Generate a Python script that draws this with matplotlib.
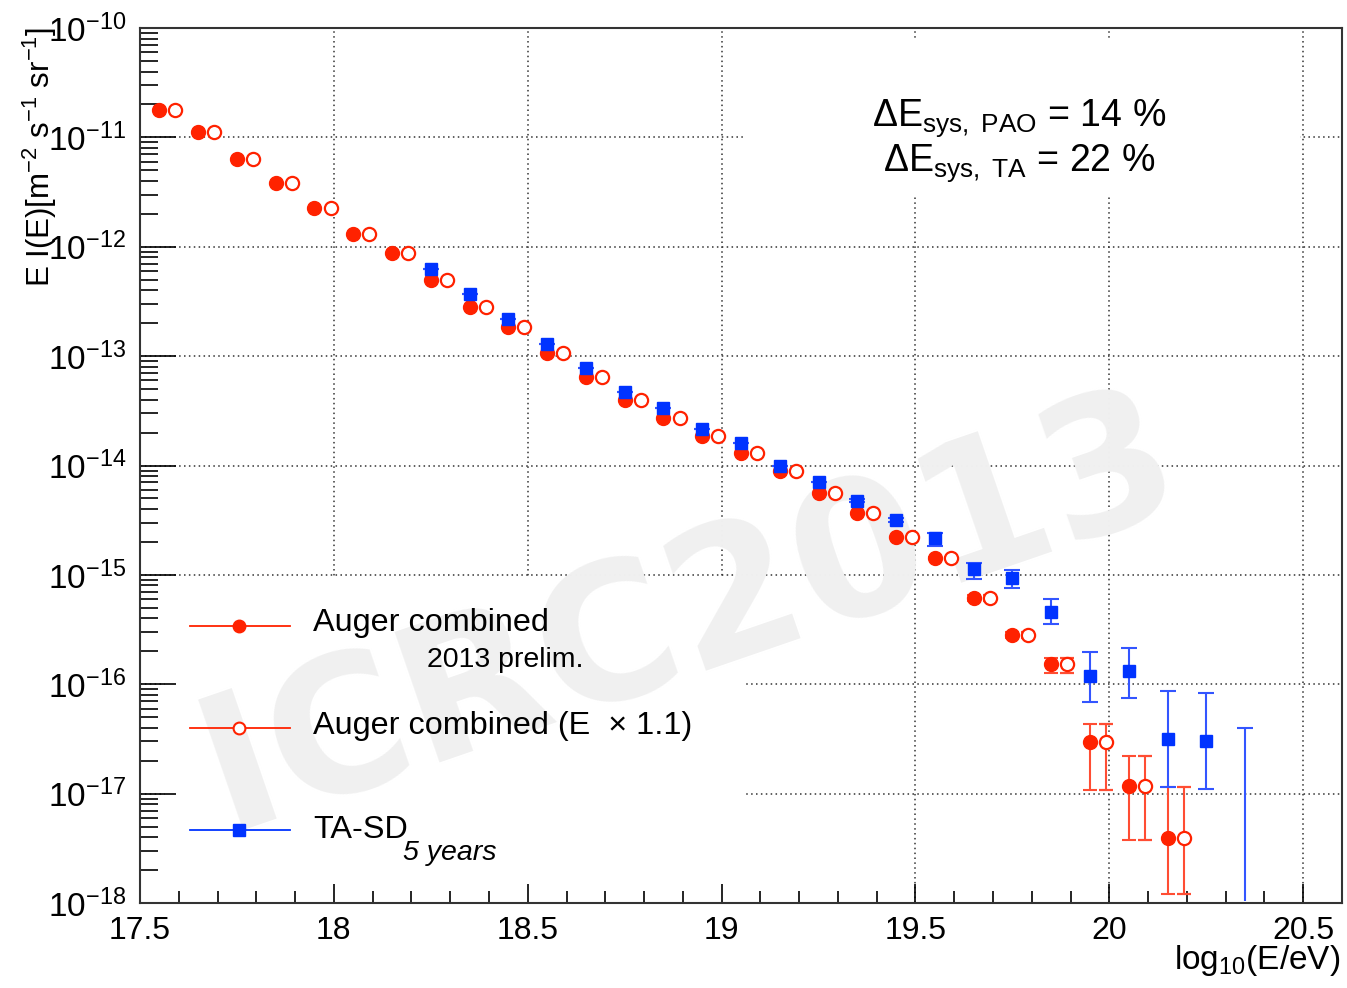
import matplotlib
matplotlib.use("Agg")
import matplotlib.pyplot as plt
from matplotlib.lines import Line2D
from matplotlib.patches import Rectangle
from matplotlib.ticker import MultipleLocator, FormatStrFormatter, LogLocator
import numpy as np

plt.rcParams['font.family'] = ['Liberation Sans', 'DejaVu Sans']
plt.rcParams['mathtext.fontset'] = 'custom'
plt.rcParams['mathtext.rm'] = 'Liberation Sans'
plt.rcParams['mathtext.it'] = 'Liberation Sans:italic'
plt.rcParams['mathtext.bf'] = 'Liberation Sans:bold'
plt.rcParams['axes.unicode_minus'] = False

# Auger combined 2013 prelim. (log10 E bin centres, E*I(E))
auger_x = [17.55, 17.65, 17.75, 17.85, 17.95, 18.05, 18.15, 18.25, 18.35, 18.45,
           18.55, 18.65, 18.75, 18.85, 18.95, 19.05, 19.15, 19.25, 19.35, 19.45,
           19.55, 19.65, 19.75, 19.85, 19.95, 20.05, 20.15]
auger_y = [1.77e-11, 1.115e-11, 6.32e-12, 3.81e-12, 2.25e-12, 1.30e-12, 8.74e-13, 4.95e-13,
           2.81e-13, 1.84e-13, 1.065e-13, 6.43e-14, 3.96e-14, 2.71e-14, 1.86e-14, 1.30e-14,
           8.89e-15, 5.60e-15, 3.67e-15, 2.22e-15, 1.42e-15, 6.14e-16, 2.82e-16, 1.53e-16,
           2.96e-17, 1.17e-17, 3.93e-18]
auger_lo = [1.77e-11, 1.115e-11, 6.32e-12, 3.81e-12, 2.25e-12, 1.30e-12, 8.74e-13, 4.95e-13,
            2.81e-13, 1.84e-13, 1.065e-13, 6.43e-14, 3.96e-14, 2.71e-14, 1.86e-14, 1.30e-14,
            8.89e-15, 5.60e-15, 3.67e-15, 2.22e-15, 1.40e-15, 5.8e-16, 2.65e-16, 1.27e-16,
            1.07e-17, 3.78e-18, 1.21e-18]
auger_hi = [1.77e-11, 1.115e-11, 6.32e-12, 3.81e-12, 2.25e-12, 1.30e-12, 8.74e-13, 4.95e-13,
            2.81e-13, 1.84e-13, 1.065e-13, 6.43e-14, 3.96e-14, 2.71e-14, 1.86e-14, 1.30e-14,
            8.89e-15, 5.60e-15, 3.67e-15, 2.22e-15, 1.45e-15, 6.5e-16, 3.0e-16, 1.73e-16,
            4.35e-17, 2.22e-17, 1.15e-17]
energy_shift = 1.1  # Auger combined (E x 1.1)

# TA-SD 5 years
ta_x = [18.25, 18.35, 18.45, 18.55, 18.65, 18.75, 18.85, 18.95, 19.05, 19.15, 19.25,
        19.35, 19.45, 19.55, 19.65, 19.75, 19.85, 19.95, 20.05, 20.15, 20.25]
ta_y = [6.20e-13, 3.66e-13, 2.17e-13, 1.28e-13, 7.72e-14, 4.69e-14, 3.33e-14, 2.15e-14,
        1.59e-14, 9.87e-15, 7.05e-15, 4.73e-15, 3.17e-15, 2.18e-15, 1.12e-15, 9.29e-16,
        4.54e-16, 1.19e-16, 1.32e-16, 3.13e-17, 3.03e-17]
ta_lo = [6.20e-13, 3.66e-13, 2.17e-13, 1.28e-13, 7.72e-14, 4.69e-14, 3.33e-14, 2.15e-14,
         1.59e-14, 9.87e-15, 7.05e-15, 4.6e-15, 3.05e-15, 1.83e-15, 9.16e-16, 7.62e-16,
         3.53e-16, 6.92e-17, 7.43e-17, 1.14e-17, 1.11e-17]
ta_hi = [6.20e-13, 3.66e-13, 2.17e-13, 1.28e-13, 7.72e-14, 4.69e-14, 3.33e-14, 2.15e-14,
         1.59e-14, 9.87e-15, 7.05e-15, 4.9e-15, 3.3e-15, 2.4e-15, 1.28e-15, 1.106e-15,
         5.97e-16, 1.98e-16, 2.13e-16, 8.67e-17, 8.36e-17]
# last TA bin: no event, upper end of the error bar only
ta_limit_x = [20.35]
ta_limit_hi = [3.96e-17]

red = '#ff2200'
red_err = '#ff4d33'
blue = '#0033ff'
blue_err = '#3355ff'

fig = plt.figure(figsize=(13.47, 9.88), dpi=100)
pos = [140 / 1347, 85 / 988, 1202 / 1347, 875 / 988]
xlim = (17.5, 20.6)
ylim = (1e-18, 1e-10)

# grid on its own axes underneath so white boxes can hide parts of it
axg = fig.add_axes(pos, zorder=0)
axg.set_yscale('log')
axg.set_xlim(*xlim)
axg.set_ylim(*ylim)
axg.xaxis.set_major_locator(MultipleLocator(0.5))
axg.yaxis.set_major_locator(LogLocator(base=10, numticks=20))
axg.grid(True, which='major', color='#333333', linestyle=(0, (1, 2.2)), linewidth=1.1)
axg.tick_params(which='both', length=0, labelleft=False, labelbottom=False)
for s in axg.spines.values():
    s.set_visible(False)

ax = fig.add_axes(pos, zorder=1)
ax.patch.set_visible(False)
ax.set_yscale('log')
ax.set_xlim(*xlim)
ax.set_ylim(*ylim)

# white boxes behind legend and text
ax.add_patch(Rectangle((0.021, 0.0), 0.483, 0.372, transform=ax.transAxes,
                       facecolor='white', edgecolor='none', zorder=1))
ax.add_patch(Rectangle((0.503, 0.809), 0.462, 0.176, transform=ax.transAxes,
                       facecolor='white', edgecolor='none', zorder=1))

# watermark
ax.text(0.458, 0.33, 'ICRC2013', transform=ax.transAxes, fontsize=136,
        family='DejaVu Sans', weight='bold', color='#f0f0f0', rotation=19,
        ha='center', va='center', zorder=1.2)

ax_arr = np.array(auger_x)
ay = np.array(auger_y)
ayerr = [ay - np.array(auger_lo), np.array(auger_hi) - ay]
ax.errorbar(ax_arr, ay, yerr=ayerr, fmt='o', color=red, ecolor=red_err, ms=10,
            elinewidth=1.5, capsize=5, capthick=1.5, zorder=3)
ax.errorbar(ax_arr + np.log10(energy_shift), ay, yerr=ayerr, fmt='o', mfc='white',
            mec=red, mew=1.6, color=red, ecolor=red_err, ms=9.5,
            elinewidth=1.5, capsize=5, capthick=1.5, zorder=3)

ty = np.array(ta_y)
tyerr = [ty - np.array(ta_lo), np.array(ta_hi) - ty]
ax.errorbar(ta_x, ty, yerr=tyerr, fmt='s', color=blue, ecolor=blue_err, ms=9,
            elinewidth=1.5, capsize=5.5, capthick=1.5, zorder=4)
ax.vlines(ta_limit_x, 1.05e-18, ta_limit_hi, color=blue_err, lw=1.5, zorder=4)
ax.plot(ta_limit_x, ta_limit_hi, ls='none', marker='_', ms=11, mew=1.5,
        color=blue_err, zorder=4)

# axes cosmetics (ROOT style)
ax.xaxis.set_major_locator(MultipleLocator(0.5))
ax.xaxis.set_minor_locator(MultipleLocator(0.1))
ax.xaxis.set_major_formatter(FormatStrFormatter('%g'))
ax.yaxis.set_major_locator(LogLocator(base=10, numticks=20))
ax.yaxis.set_minor_locator(LogLocator(base=10, subs=np.arange(2, 10), numticks=20))
ax.tick_params(axis='x', which='major', direction='in', length=14, width=1.2,
               labelsize=23, pad=9, top=False)
ax.tick_params(axis='x', which='minor', direction='in', length=9, width=1.2, top=False)
ax.tick_params(axis='y', which='major', direction='in', length=26, width=1.2,
               labelsize=24, pad=10, right=False)
ax.tick_params(axis='y', which='minor', direction='in', length=13, width=1.2, right=False)
for s in ax.spines.values():
    s.set_linewidth(1.5)
    s.set_color('#333333')

fig.text(40 / 1347, 1 - 27 / 988, r'E I(E)[m$^{-2}$ s$^{-1}$ sr$^{-1}$]', rotation=90,
         ha='center', va='top', fontsize=22.5)
fig.text(1340 / 1347, 1 - 960 / 988, r'log$_{10}$(E/eV)', ha='right', va='center',
         fontsize=24)

fig.text(1019 / 1347, 1 - 118 / 988, r'$\Delta$E$_{\mathrm{sys,\ PAO}}$ = 14 %',
         ha='center', va='center', fontsize=27)
fig.text(1019 / 1347, 1 - 163 / 988, r'$\Delta$E$_{\mathrm{sys,\ TA}}$ = 22 %',
         ha='center', va='center', fontsize=27)

# legend
leg = [(0.3166, dict(marker='o', color=red, mfc=red, ms=9)),
       (0.2000, dict(marker='o', color=red, mfc='white', mec=red, mew=1.5, ms=8.5)),
       (0.0834, dict(marker='s', color=blue, mfc=blue, ms=9))]
for yy, kw in leg:
    ax.add_line(Line2D([0.0416, 0.1248], [yy, yy], transform=ax.transAxes, lw=1.3,
                       zorder=5, color=kw['color']))
    ax.add_line(Line2D([0.0824], [yy], transform=ax.transAxes, ls='none', zorder=5, **kw))
ax.text(0.1439, 0.32, 'Auger combined', transform=ax.transAxes, fontsize=23.3,
        va='center', zorder=5)
ax.text(0.2388, 0.2777, '2013 prelim.', transform=ax.transAxes, fontsize=20.5,
        va='center', zorder=5)
ax.text(0.1439, 0.2023, 'Auger combined (E  \u00d7 1.1)', transform=ax.transAxes,
        fontsize=23.3, va='center', zorder=5)
ax.text(0.1439, 0.0834, 'TA-SD', transform=ax.transAxes, fontsize=23.3,
        va='center', zorder=5)
ax.text(0.2188, 0.0571, '5 years', transform=ax.transAxes, fontsize=20.5,
        style='italic', va='center', zorder=5)

fig.savefig('out.png', dpi=100)
